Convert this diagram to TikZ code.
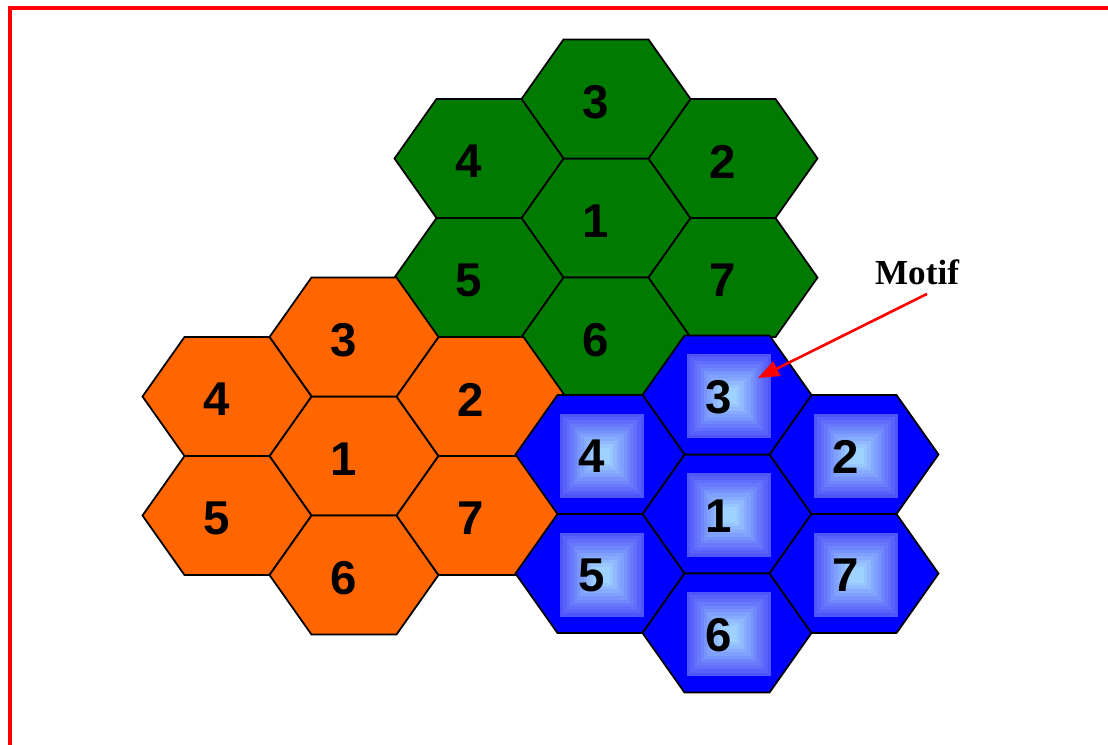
\documentclass[tikz,border=0pt]{standalone}
\usepackage{fontspec}
\newfontfamily\numfont{Liberation Sans}
\newfontfamily\motiffont{Liberation Serif}
\usetikzlibrary{arrows.meta, calc}
\definecolor{cellgreen}{RGB}{0,122,0}
\definecolor{cellorange}{RGB}{255,102,0}
\definecolor{cellblue}{RGB}{0,0,255}
\definecolor{boxout}{RGB}{80,85,250}
\definecolor{boxin}{RGB}{160,210,255}

\begin{document}
\begin{tikzpicture}[>=Stealth, x=0.02cm, y=-0.02cm,
    cell/.style={draw=black, line width=1pt, line join=miter},
    num/.style={font=\numfont\bfseries\fontsize{27}{30}\selectfont, inner sep=0pt}]

    \useasboundingbox (0,0) rectangle (1108,744);

    % Frame
    \draw[red, line width=2.3pt] (10,770) -- (10,8) -- (1130,8);

    % Green cells
    \foreach \cx/\cy/\n in {606/218/1, 733/158.5/2, 606/99/3, 479/158.5/4, 479/277.5/5, 606/337/6, 733/277.5/7}{
        \filldraw[cell, fill=cellgreen] (\cx-84.5,\cy) -- (\cx-42.5,\cy-59.5) -- (\cx+42.5,\cy-59.5)
            -- (\cx+84.5,\cy) -- (\cx+42.5,\cy+59.5) -- (\cx-42.5,\cy+59.5) -- cycle;
        \node[num] (g\n) at (\cx-10,\cy+3) {\n};
    }

    % Orange cells
    \foreach \cx/\cy/\n in {354/456/1, 481/396.5/2, 354/337/3, 227/396.5/4, 227/515.5/5, 354/575/6, 481/515.5/7}{
        \filldraw[cell, fill=cellorange] (\cx-84.5,\cy) -- (\cx-42.5,\cy-59.5) -- (\cx+42.5,\cy-59.5)
            -- (\cx+84.5,\cy) -- (\cx+42.5,\cy+59.5) -- (\cx-42.5,\cy+59.5) -- cycle;
        \node[num] (o\n) at (\cx-10,\cy+3) {\n};
    }

    % Blue cells with shaded squares
    \foreach \cx/\cy/\n in {727/514/1, 854/454.5/2, 727/395/3, 600/454.5/4, 600/573.5/5, 727/633/6, 854/573.5/7}{
        \filldraw[cell, fill=cellblue] (\cx-84.5,\cy) -- (\cx-42.5,\cy-59.5) -- (\cx+42.5,\cy-59.5)
            -- (\cx+84.5,\cy) -- (\cx+42.5,\cy+59.5) -- (\cx-42.5,\cy+59.5) -- cycle;
        \foreach \i in {0,...,10}{
            \pgfmathsetmacro\s{42-3.4*\i}
            \pgfmathtruncatemacro\p{\i*10}
            \fill[boxin!\p!boxout] (\cx+2-\s,\cy+1-\s) rectangle (\cx+2+\s,\cy+1+\s);
        }
        \node[num] (b\n) at (\cx-8,\cy+2) {\n};
    }

    % Label
    \node[font=\motiffont\bfseries\fontsize{20}{24}\selectfont, inner sep=0pt] (motif) at (917,272) {Motif};
    \coordinate (tip) at (758,378);
    \draw[red, line width=1.5pt, -{Triangle[length=12pt, width=9pt]}] ($(motif.south)+(10,9)$) -- (tip);
\end{tikzpicture}
\end{document}
